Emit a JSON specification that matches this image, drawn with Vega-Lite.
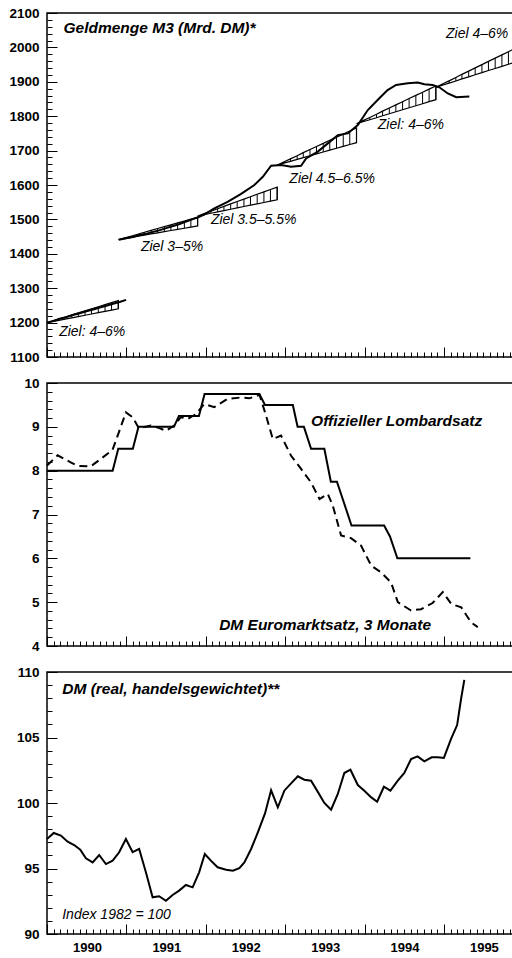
{
  "$schema": "https://vega.github.io/schema/vega-lite/v6.json",
  "padding": {"left": 0, "top": 5, "right": 0, "bottom": 0},
  "background": "white",
  "spacing": 10,
  "config": {
    "view": {"stroke": "black", "strokeWidth": 1.5},
    "axis": {"grid": false, "domain": false, "title": null, "labelFont": "Liberation Sans", "labelFontSize": 13.5, "labelFontWeight": "bold", "labelColor": "black", "tickColor": "black", "tickWidth": 1},
    "text": {"font": "Liberation Sans", "fontStyle": "italic", "align": "left", "baseline": "alphabetic", "color": "black"}
  },
  "datasets": {
    "m3": [
      {"d": "1990-01-01", "v": 1200, "seg": "a"}, {"d": "1990-02-01", "v": 1205, "seg": "a"}, {"d": "1990-03-01", "v": 1211, "seg": "a"}, {"d": "1990-04-01", "v": 1216, "seg": "a"}, {"d": "1990-05-01", "v": 1222, "seg": "a"}, {"d": "1990-06-01", "v": 1227, "seg": "a"}, {"d": "1990-07-01", "v": 1233, "seg": "a"}, {"d": "1990-08-01", "v": 1238, "seg": "a"}, {"d": "1990-09-01", "v": 1244, "seg": "a"}, {"d": "1990-10-01", "v": 1249, "seg": "a"}, {"d": "1990-11-01", "v": 1255, "seg": "a"}, {"d": "1990-12-01", "v": 1260, "seg": "a"}, {"d": "1990-12-31", "v": 1266, "seg": "a"},
      {"d": "1990-11-28", "v": 1441, "seg": "b"}, {"d": "1990-12-31", "v": 1445, "seg": "b"}, {"d": "1991-01-31", "v": 1449, "seg": "b"}, {"d": "1991-02-28", "v": 1454, "seg": "b"}, {"d": "1991-03-31", "v": 1458, "seg": "b"}, {"d": "1991-04-30", "v": 1463, "seg": "b"}, {"d": "1991-05-31", "v": 1468, "seg": "b"}, {"d": "1991-06-30", "v": 1474, "seg": "b"}, {"d": "1991-07-31", "v": 1480, "seg": "b"}, {"d": "1991-08-31", "v": 1486, "seg": "b"}, {"d": "1991-09-30", "v": 1493, "seg": "b"}, {"d": "1991-10-31", "v": 1500, "seg": "b"}, {"d": "1991-11-30", "v": 1507, "seg": "b"}, {"d": "1991-12-25", "v": 1514, "seg": "b"}, {"d": "1992-02-10", "v": 1532, "seg": "b"}, {"d": "1992-04-11", "v": 1551, "seg": "b"}, {"d": "1992-06-12", "v": 1574, "seg": "b"}, {"d": "1992-08-12", "v": 1600, "seg": "b"}, {"d": "1992-09-20", "v": 1624, "seg": "b"}, {"d": "1992-10-28", "v": 1656, "seg": "b"}, {"d": "1992-12-13", "v": 1658, "seg": "b"}, {"d": "1993-01-28", "v": 1653, "seg": "b"}, {"d": "1993-03-15", "v": 1656, "seg": "b"}, {"d": "1993-04-07", "v": 1677, "seg": "b"}, {"d": "1993-05-31", "v": 1697, "seg": "b"}, {"d": "1993-07-16", "v": 1721, "seg": "b"}, {"d": "1993-08-31", "v": 1745, "seg": "b"}, {"d": "1993-10-16", "v": 1750, "seg": "b"}, {"d": "1993-12-01", "v": 1774, "seg": "b"}, {"d": "1994-01-16", "v": 1818, "seg": "b"}, {"d": "1994-03-10", "v": 1852, "seg": "b"}, {"d": "1994-04-17", "v": 1876, "seg": "b"}, {"d": "1994-05-26", "v": 1891, "seg": "b"}, {"d": "1994-07-19", "v": 1896, "seg": "b"}, {"d": "1994-09-03", "v": 1898, "seg": "b"}, {"d": "1994-10-03", "v": 1893, "seg": "b"}, {"d": "1994-11-10", "v": 1891, "seg": "b"}, {"d": "1994-12-11", "v": 1884, "seg": "b"}, {"d": "1995-01-19", "v": 1866, "seg": "b"}, {"d": "1995-02-27", "v": 1855, "seg": "b"}, {"d": "1995-04-28", "v": 1857, "seg": "b"}
    ],
    "corr": [
      {"c": 1, "d": "1990-01-01", "lo": 1200, "hi": 1200}, {"c": 1, "d": "1990-02-25", "lo": 1206.7, "hi": 1210.8}, {"c": 1, "d": "1990-03-25", "lo": 1210.1, "hi": 1216.2}, {"c": 1, "d": "1990-04-25", "lo": 1213.9, "hi": 1222.3}, {"c": 1, "d": "1990-05-25", "lo": 1217.6, "hi": 1228.1}, {"c": 1, "d": "1990-06-25", "lo": 1221.4, "hi": 1234.2}, {"c": 1, "d": "1990-07-25", "lo": 1225, "hi": 1240}, {"c": 1, "d": "1990-08-25", "lo": 1228.8, "hi": 1246.1}, {"c": 1, "d": "1990-09-25", "lo": 1232.6, "hi": 1252.1}, {"c": 1, "d": "1990-10-25", "lo": 1236.2, "hi": 1257.9}, {"c": 1, "d": "1990-11-25", "lo": 1240, "hi": 1264},
      {"c": 2, "d": "1990-11-25", "lo": 1441, "hi": 1441}, {"c": 2, "d": "1990-12-25", "lo": 1444.3, "hi": 1446.4}, {"c": 2, "d": "1991-01-25", "lo": 1447.7, "hi": 1451.8}, {"c": 2, "d": "1991-02-25", "lo": 1451, "hi": 1457.3}, {"c": 2, "d": "1991-03-25", "lo": 1454.3, "hi": 1462.7}, {"c": 2, "d": "1991-04-25", "lo": 1457.7, "hi": 1468.1}, {"c": 2, "d": "1991-05-25", "lo": 1461, "hi": 1473.5}, {"c": 2, "d": "1991-06-25", "lo": 1464.3, "hi": 1478.9}, {"c": 2, "d": "1991-07-25", "lo": 1467.7, "hi": 1484.3}, {"c": 2, "d": "1991-08-25", "lo": 1471, "hi": 1489.8}, {"c": 2, "d": "1991-09-25", "lo": 1474.3, "hi": 1495.2}, {"c": 2, "d": "1991-10-25", "lo": 1477.7, "hi": 1500.6}, {"c": 2, "d": "1991-11-25", "lo": 1481, "hi": 1506},
      {"c": 3, "d": "1991-11-25", "lo": 1510, "hi": 1510}, {"c": 3, "d": "1991-12-25", "lo": 1513.9, "hi": 1517}, {"c": 3, "d": "1992-01-25", "lo": 1517.8, "hi": 1524}, {"c": 3, "d": "1992-02-25", "lo": 1521.8, "hi": 1531}, {"c": 3, "d": "1992-03-25", "lo": 1525.7, "hi": 1538}, {"c": 3, "d": "1992-04-25", "lo": 1529.6, "hi": 1545}, {"c": 3, "d": "1992-05-25", "lo": 1533.5, "hi": 1552}, {"c": 3, "d": "1992-06-25", "lo": 1537.4, "hi": 1559}, {"c": 3, "d": "1992-07-25", "lo": 1541.3, "hi": 1566}, {"c": 3, "d": "1992-08-25", "lo": 1545.3, "hi": 1573}, {"c": 3, "d": "1992-09-25", "lo": 1549.2, "hi": 1580}, {"c": 3, "d": "1992-10-25", "lo": 1553.1, "hi": 1587}, {"c": 3, "d": "1992-11-25", "lo": 1557, "hi": 1594},
      {"c": 4, "d": "1992-11-25", "lo": 1658, "hi": 1658}, {"c": 4, "d": "1992-12-25", "lo": 1663.4, "hi": 1667}, {"c": 4, "d": "1993-01-25", "lo": 1668.8, "hi": 1676}, {"c": 4, "d": "1993-02-25", "lo": 1674.3, "hi": 1685}, {"c": 4, "d": "1993-03-25", "lo": 1679.7, "hi": 1694}, {"c": 4, "d": "1993-04-25", "lo": 1685.1, "hi": 1703}, {"c": 4, "d": "1993-05-25", "lo": 1690.5, "hi": 1712}, {"c": 4, "d": "1993-06-25", "lo": 1695.9, "hi": 1721}, {"c": 4, "d": "1993-07-25", "lo": 1701.3, "hi": 1730}, {"c": 4, "d": "1993-08-25", "lo": 1706.8, "hi": 1739}, {"c": 4, "d": "1993-09-25", "lo": 1712.2, "hi": 1748}, {"c": 4, "d": "1993-10-25", "lo": 1717.6, "hi": 1757}, {"c": 4, "d": "1993-11-25", "lo": 1723, "hi": 1766},
      {"c": 5, "d": "1993-11-25", "lo": 1778, "hi": 1778}, {"c": 5, "d": "1993-12-25", "lo": 1783.8, "hi": 1787.2}, {"c": 5, "d": "1994-01-25", "lo": 1789.7, "hi": 1796.3}, {"c": 5, "d": "1994-02-25", "lo": 1795.5, "hi": 1805.5}, {"c": 5, "d": "1994-03-25", "lo": 1801.3, "hi": 1814.7}, {"c": 5, "d": "1994-04-25", "lo": 1807.2, "hi": 1823.8}, {"c": 5, "d": "1994-05-25", "lo": 1813, "hi": 1833}, {"c": 5, "d": "1994-06-25", "lo": 1818.8, "hi": 1842.2}, {"c": 5, "d": "1994-07-25", "lo": 1824.7, "hi": 1851.3}, {"c": 5, "d": "1994-08-25", "lo": 1830.5, "hi": 1860.5}, {"c": 5, "d": "1994-09-25", "lo": 1836.3, "hi": 1869.7}, {"c": 5, "d": "1994-10-25", "lo": 1842.2, "hi": 1878.8}, {"c": 5, "d": "1994-11-25", "lo": 1848, "hi": 1888},
      {"c": 6, "d": "1994-11-25", "lo": 1884, "hi": 1884}, {"c": 6, "d": "1994-12-25", "lo": 1890.1, "hi": 1893.4}, {"c": 6, "d": "1995-01-25", "lo": 1896.2, "hi": 1902.8}, {"c": 6, "d": "1995-02-25", "lo": 1902.3, "hi": 1912.3}, {"c": 6, "d": "1995-03-25", "lo": 1908.3, "hi": 1921.7}, {"c": 6, "d": "1995-04-25", "lo": 1914.4, "hi": 1931.1}, {"c": 6, "d": "1995-05-25", "lo": 1920.5, "hi": 1940.5}, {"c": 6, "d": "1995-06-25", "lo": 1926.6, "hi": 1949.9}, {"c": 6, "d": "1995-07-25", "lo": 1932.7, "hi": 1959.3}, {"c": 6, "d": "1995-08-25", "lo": 1938.8, "hi": 1968.8}, {"c": 6, "d": "1995-09-25", "lo": 1944.8, "hi": 1978.2}, {"c": 6, "d": "1995-10-25", "lo": 1950.9, "hi": 1987.6}, {"c": 6, "d": "1995-11-15", "lo": 1955, "hi": 1994}
    ],
    "ziel": [
      {"d": "1990-02-26", "v": 1161, "t": "Ziel: 4–6%"},
      {"d": "1991-03-09", "v": 1409, "t": "Ziel 3–5%"},
      {"d": "1992-01-25", "v": 1487, "t": "Ziel 3.5–5.5%"},
      {"d": "1993-01-20", "v": 1607, "t": "Ziel 4.5–6.5%"},
      {"d": "1994-03-03", "v": 1762, "t": "Ziel: 4–6%"},
      {"d": "1995-01-11", "v": 2026, "t": "Ziel 4–6%"}
    ],
    "t1": [{"d": "1990-03-18", "v": 2041, "t": "Geldmenge M3 (Mrd. DM)*"}],
    "lomb": [
      {"d": "1990-01-01", "v": 8.0}, {"d": "1990-10-30", "v": 8.0}, {"d": "1990-11-25", "v": 8.5}, {"d": "1991-01-31", "v": 8.5}, {"d": "1991-02-26", "v": 9.0}, {"d": "1991-08-08", "v": 9.0}, {"d": "1991-08-31", "v": 9.25}, {"d": "1991-12-01", "v": 9.25}, {"d": "1991-12-27", "v": 9.75}, {"d": "1992-09-04", "v": 9.75}, {"d": "1992-09-30", "v": 9.5}, {"d": "1993-02-05", "v": 9.5}, {"d": "1993-02-27", "v": 9.0}, {"d": "1993-03-28", "v": 9.0}, {"d": "1993-04-30", "v": 8.5}, {"d": "1993-06-30", "v": 8.5}, {"d": "1993-07-30", "v": 7.75}, {"d": "1993-08-27", "v": 7.75}, {"d": "1993-11-02", "v": 6.75}, {"d": "1994-04-01", "v": 6.75}, {"d": "1994-04-28", "v": 6.5}, {"d": "1994-06-01", "v": 6.0}, {"d": "1995-05-03", "v": 6.0}
    ],
    "euro": [
      {"d": "1990-01-01", "v": 8.12}, {"d": "1990-02-19", "v": 8.35}, {"d": "1990-04-20", "v": 8.19}, {"d": "1990-05-21", "v": 8.11}, {"d": "1990-07-22", "v": 8.10}, {"d": "1990-09-06", "v": 8.27}, {"d": "1990-10-29", "v": 8.47}, {"d": "1990-11-28", "v": 8.88}, {"d": "1990-12-30", "v": 9.33}, {"d": "1991-01-30", "v": 9.22}, {"d": "1991-02-27", "v": 8.97}, {"d": "1991-04-24", "v": 9.03}, {"d": "1991-06-02", "v": 8.97}, {"d": "1991-07-02", "v": 8.91}, {"d": "1991-08-09", "v": 9.03}, {"d": "1991-09-09", "v": 9.22}, {"d": "1991-10-10", "v": 9.18}, {"d": "1991-11-17", "v": 9.29}, {"d": "1991-12-25", "v": 9.52}, {"d": "1992-02-10", "v": 9.45}, {"d": "1992-04-11", "v": 9.64}, {"d": "1992-06-12", "v": 9.67}, {"d": "1992-07-20", "v": 9.65}, {"d": "1992-09-05", "v": 9.73}, {"d": "1992-10-05", "v": 9.25}, {"d": "1992-11-05", "v": 8.72}, {"d": "1992-12-13", "v": 8.80}, {"d": "1993-01-28", "v": 8.34}, {"d": "1993-03-15", "v": 8.04}, {"d": "1993-04-30", "v": 7.73}, {"d": "1993-06-08", "v": 7.35}, {"d": "1993-07-16", "v": 7.47}, {"d": "1993-08-08", "v": 7.20}, {"d": "1993-09-15", "v": 6.52}, {"d": "1993-10-31", "v": 6.46}, {"d": "1993-12-16", "v": 6.29}, {"d": "1994-02-01", "v": 5.83}, {"d": "1994-03-18", "v": 5.68}, {"d": "1994-05-03", "v": 5.45}, {"d": "1994-06-03", "v": 5.00}, {"d": "1994-08-03", "v": 4.81}, {"d": "1994-09-18", "v": 4.84}, {"d": "1994-11-10", "v": 4.98}, {"d": "1994-12-27", "v": 5.23}, {"d": "1995-02-04", "v": 4.96}, {"d": "1995-03-22", "v": 4.88}, {"d": "1995-05-06", "v": 4.54}, {"d": "1995-06-06", "v": 4.43}
    ],
    "t2": [
      {"d": "1993-04-30", "v": 9.03, "t": "Offizieller Lombardsatz"},
      {"d": "1992-03-03", "v": 4.36, "t": "DM Euromarktsatz, 3 Monate"}
    ],
    "dm": [
      {"d": "1990-01-01", "v": 97.25}, {"d": "1990-02-01", "v": 97.71}, {"d": "1990-03-06", "v": 97.51}, {"d": "1990-04-06", "v": 97.05}, {"d": "1990-05-06", "v": 96.79}, {"d": "1990-06-03", "v": 96.44}, {"d": "1990-06-29", "v": 95.78}, {"d": "1990-07-30", "v": 95.47}, {"d": "1990-08-29", "v": 96.03}, {"d": "1990-09-29", "v": 95.34}, {"d": "1990-10-30", "v": 95.6}, {"d": "1990-11-29", "v": 96.24}, {"d": "1990-12-30", "v": 97.25}, {"d": "1991-01-30", "v": 96.24}, {"d": "1991-03-01", "v": 96.49}, {"d": "1991-04-01", "v": 94.71}, {"d": "1991-05-02", "v": 92.8}, {"d": "1991-06-01", "v": 92.88}, {"d": "1991-07-02", "v": 92.54}, {"d": "1991-08-02", "v": 92.98}, {"d": "1991-09-01", "v": 93.31}, {"d": "1991-10-02", "v": 93.74}, {"d": "1991-11-02", "v": 93.56}, {"d": "1991-12-02", "v": 94.71}, {"d": "1991-12-28", "v": 96.11}, {"d": "1992-01-25", "v": 95.6}, {"d": "1992-02-25", "v": 95.09}, {"d": "1992-04-04", "v": 94.91}, {"d": "1992-05-05", "v": 94.83}, {"d": "1992-06-04", "v": 95.02}, {"d": "1992-06-27", "v": 95.47}, {"d": "1992-07-28", "v": 96.49}, {"d": "1992-08-28", "v": 97.76}, {"d": "1992-09-30", "v": 99.2}, {"d": "1992-10-28", "v": 100.97}, {"d": "1992-11-28", "v": 99.67}, {"d": "1992-12-28", "v": 100.94}, {"d": "1993-01-28", "v": 101.5}, {"d": "1993-02-28", "v": 102.04}, {"d": "1993-03-30", "v": 101.78}, {"d": "1993-04-30", "v": 101.7}, {"d": "1993-05-31", "v": 100.85}, {"d": "1993-06-30", "v": 100.0}, {"d": "1993-07-31", "v": 99.49}, {"d": "1993-08-31", "v": 100.69}, {"d": "1993-09-30", "v": 102.29}, {"d": "1993-10-28", "v": 102.54}, {"d": "1993-12-01", "v": 101.37}, {"d": "1993-12-31", "v": 100.94}, {"d": "1994-02-01", "v": 100.43}, {"d": "1994-02-28", "v": 100.1}, {"d": "1994-03-31", "v": 101.24}, {"d": "1994-04-30", "v": 100.94}, {"d": "1994-06-03", "v": 101.7}, {"d": "1994-07-03", "v": 102.29}, {"d": "1994-08-03", "v": 103.36}, {"d": "1994-09-02", "v": 103.56}, {"d": "1994-10-03", "v": 103.18}, {"d": "1994-11-06", "v": 103.49}, {"d": "1994-12-04", "v": 103.49}, {"d": "1995-01-01", "v": 103.44}, {"d": "1995-02-03", "v": 104.89}, {"d": "1995-03-03", "v": 105.95}, {"d": "1995-03-21", "v": 107.94}, {"d": "1995-04-05", "v": 109.4}
    ],
    "t3a": [{"d": "1990-03-12", "v": 108.33, "t": "DM (real, handelsgewichtet)**"}],
    "t3b": [{"d": "1990-03-12", "v": 91.15, "t": "Index 1982 = 100"}]
  },
  "vconcat": [
    {
      "width": 466, "height": 344,
      "resolve": {"axis": {"x": "independent", "y": "independent"}},
      "layer": [
        {
          "data": {"name": "corr"},
          "mark": {"type": "area", "fill": "white", "stroke": "black", "strokeWidth": 1.2},
          "encoding": {
            "x": {"field": "d", "type": "temporal", "scale": {"domain": [{"year": 1990, "month": 1, "date": 1}, {"year": 1995, "month": 11, "date": 15}], "nice": false}, "axis": null},
            "y": {"field": "hi", "type": "quantitative", "scale": {"domain": [1100, 2100], "nice": false, "zero": false}, "axis": null},
            "y2": {"field": "lo"},
            "detail": {"field": "c"}
          }
        },
        {
          "data": {"name": "corr"},
          "mark": {"type": "rule", "color": "black", "strokeWidth": 1},
          "encoding": {
            "x": {"field": "d", "type": "temporal", "axis": {"orient": "bottom", "tickCount": {"interval": "month", "step": 1}, "tickSize": -5, "labels": false}},
            "y": {"field": "lo", "type": "quantitative", "axis": {"orient": "left", "values": [1100,1120,1140,1160,1180,1200,1220,1240,1260,1280,1300,1320,1340,1360,1380,1400,1420,1440,1460,1480,1500,1520,1540,1560,1580,1600,1620,1640,1660,1680,1700,1720,1740,1760,1780,1800,1820,1840,1860,1880,1900,1920,1940,1960,1980,2000,2020,2040,2060,2080,2100], "tickSize": -5, "labels": false, "minExtent": 46, "maxExtent": 46}},
            "y2": {"field": "hi"}
          }
        },
        {
          "data": {"name": "m3"},
          "mark": {"type": "line", "color": "black", "strokeWidth": 2},
          "encoding": {
            "x": {"field": "d", "type": "temporal", "axis": {"orient": "bottom", "tickCount": {"interval": "year", "step": 1}, "tickSize": -10, "labels": false}},
            "y": {"field": "v", "type": "quantitative", "axis": {"orient": "left", "values": [1100,1200,1300,1400,1500,1600,1700,1800,1900,2000,2100], "format": "d", "tickSize": -10, "labelPadding": 18, "minExtent": 46, "maxExtent": 46}},
            "detail": {"field": "seg"}
          }
        },
        {
          "data": {"name": "ziel"},
          "mark": {"type": "text", "fontSize": 14},
          "encoding": {
            "x": {"field": "d", "type": "temporal", "axis": null},
            "y": {"field": "v", "type": "quantitative", "axis": null},
            "text": {"field": "t"}
          }
        },
        {
          "data": {"name": "t1"},
          "mark": {"type": "text", "fontSize": 15.5, "fontWeight": "bold"},
          "encoding": {
            "x": {"field": "d", "type": "temporal", "axis": null},
            "y": {"field": "v", "type": "quantitative", "axis": null},
            "text": {"field": "t"}
          }
        }
      ]
    },
    {
      "width": 466, "height": 263,
      "resolve": {"axis": {"x": "independent", "y": "independent"}},
      "layer": [
        {
          "data": {"name": "euro"},
          "mark": {"type": "line", "color": "black", "strokeWidth": 2, "strokeDash": [8, 5]},
          "encoding": {
            "x": {"field": "d", "type": "temporal", "scale": {"domain": [{"year": 1990, "month": 1, "date": 1}, {"year": 1995, "month": 11, "date": 15}], "nice": false}, "axis": {"orient": "bottom", "tickCount": {"interval": "month", "step": 1}, "tickSize": -5, "labels": false}},
            "y": {"field": "v", "type": "quantitative", "scale": {"domain": [4, 10], "nice": false, "zero": false}, "axis": {"orient": "left", "values": [4,4.2,4.4,4.6,4.8,5,5.2,5.4,5.6,5.8,6,6.2,6.4,6.6,6.8,7,7.2,7.4,7.6,7.8,8,8.2,8.4,8.6,8.8,9,9.2,9.4,9.6,9.8,10], "tickSize": -5, "labels": false, "minExtent": 46, "maxExtent": 46}}
          }
        },
        {
          "data": {"name": "lomb"},
          "mark": {"type": "line", "color": "black", "strokeWidth": 2},
          "encoding": {
            "x": {"field": "d", "type": "temporal", "axis": {"orient": "bottom", "tickCount": {"interval": "year", "step": 1}, "tickSize": -10, "labels": false}},
            "y": {"field": "v", "type": "quantitative", "axis": {"orient": "left", "values": [4,5,6,7,8,9,10], "format": "d", "tickSize": -10, "labelPadding": 18, "minExtent": 46, "maxExtent": 46}}
          }
        },
        {
          "data": {"name": "t2"},
          "mark": {"type": "text", "fontSize": 15.5, "fontWeight": "bold"},
          "encoding": {
            "x": {"field": "d", "type": "temporal", "axis": null},
            "y": {"field": "v", "type": "quantitative", "axis": null},
            "text": {"field": "t"}
          }
        }
      ]
    },
    {
      "width": 466, "height": 262,
      "resolve": {"axis": {"x": "independent", "y": "independent"}},
      "layer": [
        {
          "data": {"name": "dm"},
          "mark": {"type": "line", "color": "black", "strokeWidth": 2},
          "encoding": {
            "x": {"field": "d", "type": "temporal", "scale": {"domain": [{"year": 1990, "month": 1, "date": 1}, {"year": 1995, "month": 11, "date": 15}], "nice": false}, "axis": {"orient": "bottom", "tickCount": {"interval": "year", "step": 1}, "tickSize": -10, "format": "%Y", "labelOffset": 40, "labelPadding": 17, "labelFlush": false, "labelOverlap": false, "labelBaseline": "top", "labelFontSize": 13}},
            "y": {"field": "v", "type": "quantitative", "scale": {"domain": [90, 110], "nice": false, "zero": false}, "axis": {"orient": "left", "values": [90,95,100,105,110], "format": "d", "tickSize": -10, "labelPadding": 18, "minExtent": 46, "maxExtent": 46}}
          }
        },
        {
          "data": {"name": "t3a"},
          "mark": {"type": "text", "fontSize": 15.5, "fontWeight": "bold"},
          "encoding": {
            "x": {"field": "d", "type": "temporal", "axis": {"orient": "bottom", "tickCount": {"interval": "month", "step": 1}, "tickSize": -5, "labels": false}},
            "y": {"field": "v", "type": "quantitative", "axis": {"orient": "left", "values": [90,91,92,93,94,95,96,97,98,99,100,101,102,103,104,105,106,107,108,109,110], "tickSize": -5, "labels": false, "minExtent": 46, "maxExtent": 46}},
            "text": {"field": "t"}
          }
        },
        {
          "data": {"name": "t3b"},
          "mark": {"type": "text", "fontSize": 14},
          "encoding": {
            "x": {"field": "d", "type": "temporal", "axis": null},
            "y": {"field": "v", "type": "quantitative", "axis": null},
            "text": {"field": "t"}
          }
        }
      ]
    }
  ]
}
